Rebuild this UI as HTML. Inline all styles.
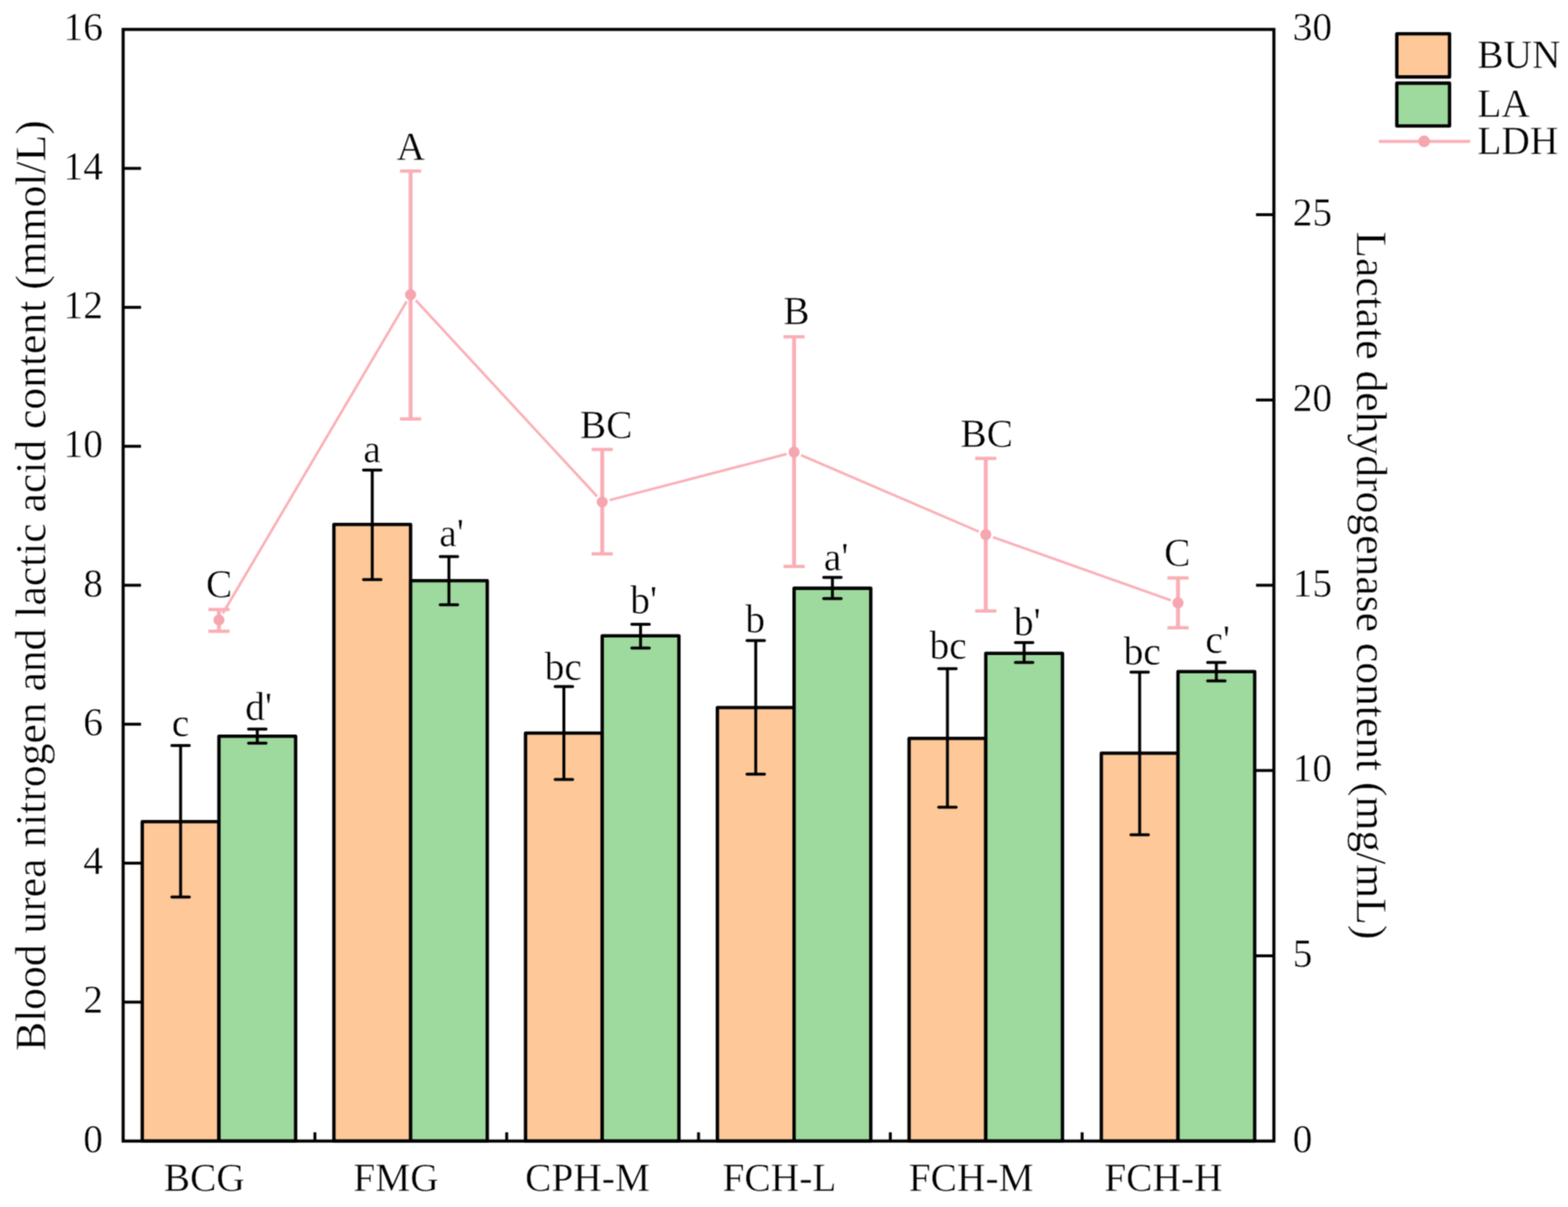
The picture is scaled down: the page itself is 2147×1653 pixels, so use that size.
<!DOCTYPE html>
<html><head><meta charset="utf-8"><title>BUN LA LDH chart</title><style>
html,body{margin:0;padding:0;background:#fff;width:2147px;height:1653px;overflow:hidden}
svg{display:block}
#w{filter:url(#soft)}
text{font-family:"Liberation Serif","Times New Roman",serif;fill:#000;stroke:#fff;stroke-width:0.5px}
</style></head><body>
<div id="w"><svg width="2147" height="1653" viewBox="0 0 2147 1653">
<defs><filter id="soft" x="0" y="0" width="100%" height="100%" filterUnits="userSpaceOnUse" color-interpolation-filters="sRGB"><feConvolveMatrix order="3" kernelMatrix="1 2 1 2 4 2 1 2 1" divisor="16" edgeMode="duplicate"/></filter></defs>
<rect x="0" y="0" width="2147" height="1653" fill="#fff"/>
<g stroke="#000" stroke-width="4.6" stroke-linejoin="round">
<rect x="194.8" y="1125.2" width="105.0" height="437.5" fill="#FEC899"/>
<rect x="299.8" y="1008.2" width="105.0" height="554.5" fill="#9ED99E"/>
<rect x="457.2" y="718.2" width="105.0" height="844.5" fill="#FEC899"/>
<rect x="562.2" y="795.3" width="105.0" height="767.4" fill="#9ED99E"/>
<rect x="719.6" y="1004.0" width="105.0" height="558.7" fill="#FEC899"/>
<rect x="824.6" y="870.8" width="105.0" height="691.9" fill="#9ED99E"/>
<rect x="982.3" y="969.0" width="105.0" height="593.7" fill="#FEC899"/>
<rect x="1087.3" y="805.6" width="105.0" height="757.1" fill="#9ED99E"/>
<rect x="1244.8" y="1011.2" width="105.0" height="551.5" fill="#FEC899"/>
<rect x="1349.8" y="894.7" width="105.0" height="668.0" fill="#9ED99E"/>
<rect x="1508.0" y="1031.5" width="105.0" height="531.2" fill="#FEC899"/>
<rect x="1613.0" y="919.7" width="105.0" height="643.0" fill="#9ED99E"/>
</g>
<g stroke="#000" stroke-width="4" stroke-linecap="round" fill="none">
<path d="M247.3 1021.0V1228.6M235.3 1021.0H259.3M235.3 1228.6H259.3"/>
<path d="M352.3 998.6V1017.7M340.3 998.6H364.3M340.3 1017.7H364.3"/>
<path d="M509.7 643.8V793.7M497.7 643.8H521.7M497.7 793.7H521.7"/>
<path d="M614.7 762.3V828.3M602.7 762.3H626.7M602.7 828.3H626.7"/>
<path d="M772.1 940.3V1067.6M760.1 940.3H784.1M760.1 1067.6H784.1"/>
<path d="M877.1 855.1V887.5M865.1 855.1H889.1M865.1 887.5H889.1"/>
<path d="M1034.8 877.3V1060.3M1022.8 877.3H1046.8M1022.8 1060.3H1046.8"/>
<path d="M1139.8 790.8V819.7M1127.8 790.8H1151.8M1127.8 819.7H1151.8"/>
<path d="M1297.3 915.7V1105.4M1285.3 915.7H1309.3M1285.3 1105.4H1309.3"/>
<path d="M1402.3 880.1V907.2M1390.3 880.1H1414.3M1390.3 907.2H1414.3"/>
<path d="M1560.5 920.5V1143.3M1548.5 920.5H1572.5M1548.5 1143.3H1572.5"/>
<path d="M1665.5 907.2V932.5M1653.5 907.2H1677.5M1653.5 932.5H1677.5"/>
</g>
<path d="M305.1 840.0L556.9 412.6M569.3 411.3L817.5 679.8M834.8 684.9L1077.1 621.8M1096.9 623.3L1340.2 728.0M1359.7 735.6L1603.1 822.2" fill="none" stroke="#FAB0B7" stroke-width="3.5"/>
<g stroke="#FAAEB5" stroke-width="5.4" fill="none">
<path d="M299.8 834.8V864.5"/>
<path d="M562.2 234.2V573.8"/>
<path d="M824.6 615.6V758.5"/>
<path d="M1087.3 461.2V775.7"/>
<path d="M1349.8 627.8V836.8"/>
<path d="M1613.0 791.4V859.8"/>
</g>
<g stroke="#FAAEB5" stroke-width="4.5" fill="none">
<path d="M285.3 834.8H314.3M285.3 864.5H314.3"/>
<path d="M547.7 234.2H576.7M547.7 573.8H576.7"/>
<path d="M810.1 615.6H839.1M810.1 758.5H839.1"/>
<path d="M1072.8 461.2H1101.8M1072.8 775.7H1101.8"/>
<path d="M1335.3 627.8H1364.3M1335.3 836.8H1364.3"/>
<path d="M1598.5 791.4H1627.5M1598.5 859.8H1627.5"/>
</g>
<g fill="#F5A6AE">
<circle cx="299.8" cy="849.0" r="7.6"/>
<circle cx="562.2" cy="403.6" r="7.6"/>
<circle cx="824.6" cy="687.5" r="7.6"/>
<circle cx="1087.3" cy="619.2" r="7.6"/>
<circle cx="1349.8" cy="732.1" r="7.6"/>
<circle cx="1613.0" cy="825.7" r="7.6"/>
</g>
<rect x="168.6" y="40.3" width="1575.7" height="1522.4" fill="none" stroke="#000" stroke-width="4.2"/>
<g stroke="#000" stroke-width="4">
<path d="M168.6 1372.4H193.1"/>
<path d="M168.6 1182.1H193.1"/>
<path d="M168.6 991.8H193.1"/>
<path d="M168.6 801.5H193.1"/>
<path d="M168.6 611.2H193.1"/>
<path d="M168.6 420.9H193.1"/>
<path d="M168.6 230.6H193.1"/>
<path d="M1719.8 1309.0H1744.3"/>
<path d="M1719.8 1055.2H1744.3"/>
<path d="M1719.8 801.5H1744.3"/>
<path d="M1719.8 547.8H1744.3"/>
<path d="M1719.8 294.0H1744.3"/>
<path d="M431.2 1562.7V1550.7"/>
<path d="M693.8 1562.7V1550.7"/>
<path d="M956.5 1562.7V1550.7"/>
<path d="M1219.1 1562.7V1550.7"/>
<path d="M1481.7 1562.7V1550.7"/>
</g>
<g font-size="54" text-anchor="end">
<text x="141" y="1577.7">0</text>
<text x="141" y="1387.4">2</text>
<text x="141" y="1197.1">4</text>
<text x="141" y="1006.8">6</text>
<text x="141" y="816.5">8</text>
<text x="141" y="626.2">10</text>
<text x="141" y="435.9">12</text>
<text x="141" y="245.6">14</text>
<text x="141" y="55.3">16</text>
</g>
<g font-size="54">
<text x="1770" y="1577.7">0</text>
<text x="1770" y="1324.0">5</text>
<text x="1770" y="1070.2">10</text>
<text x="1770" y="816.5">15</text>
<text x="1770" y="562.8">20</text>
<text x="1770" y="309.0">25</text>
<text x="1770" y="55.3">30</text>
</g>
<g font-size="54" text-anchor="middle">
<text x="279.8" y="1631">BCG</text>
<text x="542.2" y="1631">FMG</text>
<text x="804.6" y="1631">CPH-M</text>
<text x="1067.3" y="1631">FCH-L</text>
<text x="1329.8" y="1631">FCH-M</text>
<text x="1593.0" y="1631">FCH-H</text>
</g>
<g font-size="54" text-anchor="middle">
<text x="247.3" y="1008.3">c</text>
<text x="354.0" y="985.8">d'</text>
<text x="299.9" y="818.0">C</text>
<text x="509.5" y="633.4">a</text>
<text x="618.4" y="748.2">a'</text>
<text x="562.4" y="219.0">A</text>
<text x="771.2" y="930.8">bc</text>
<text x="881.3" y="840.3">b'</text>
<text x="830.1" y="600.4">BC</text>
<text x="1033.9" y="865.6">b</text>
<text x="1144.9" y="780.5">a'</text>
<text x="1090.4" y="443.8">B</text>
<text x="1298.3" y="902.4">bc</text>
<text x="1406.6" y="870.1">b'</text>
<text x="1351.0" y="612.0">BC</text>
<text x="1564.0" y="910.0">bc</text>
<text x="1667.4" y="894.3">c'</text>
<text x="1612.1" y="774.9">C</text>
</g>
<text font-size="59.7" transform="translate(61.5,1439.3) rotate(-90)">Blood urea nitrogen and lactic acid content (mmol/L)</text>
<text font-size="59.7" transform="translate(1858,317) rotate(90)">Lactate dehydrogenase content (mg/mL)</text>
<g stroke="#000" stroke-width="4.6" stroke-linejoin="round">
<rect x="1912.6" y="46.2" width="72.2" height="59.2" fill="#FEC899"/>
<rect x="1912.6" y="113.9" width="72.2" height="58.6" fill="#9ED99E"/>
</g>
<path d="M1888 193.6H2013" stroke="#FAB0B7" stroke-width="4.2"/>
<circle cx="1950" cy="193.6" r="8" fill="#F5A6AE"/>
<g font-size="54">
<text x="2022.7" y="92.8">BUN</text>
<text x="2022.7" y="160">LA</text>
<text x="2022.7" y="211">LDH</text>
</g>
</svg></div>
</body></html>
